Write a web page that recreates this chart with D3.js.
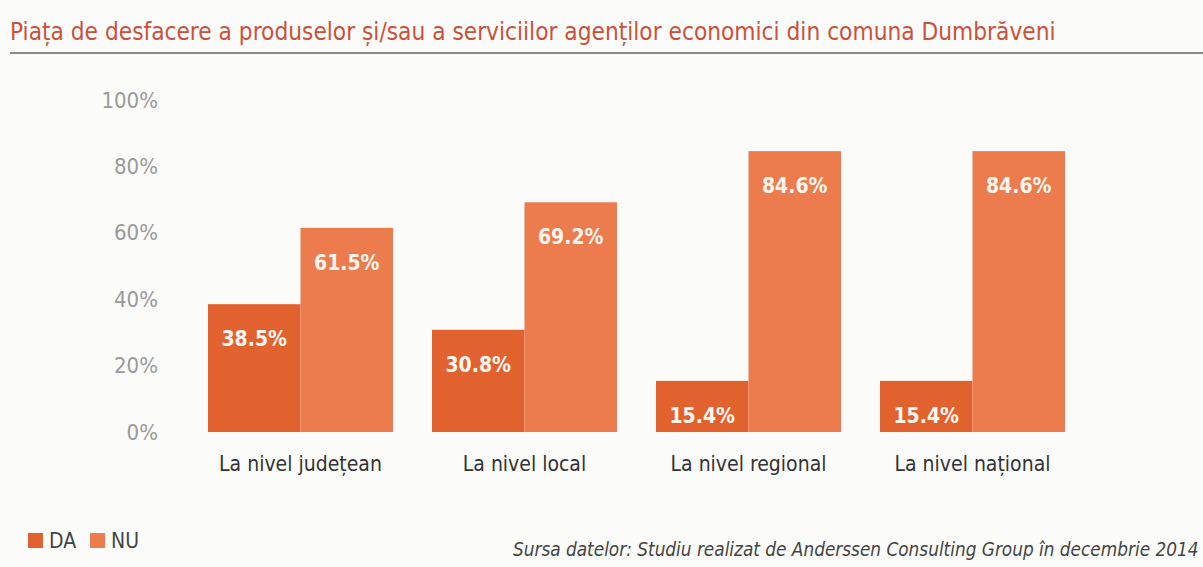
<!DOCTYPE html>
<html>
<head>
<meta charset="utf-8">
<script src="https://cdn.jsdelivr.net/npm/d3@7"></script>
<style>
  body { margin: 0; background: #fbfbfa; }
  svg { display: block; }
</style>
</head>
<body>
<div id="app"></div>
<script>
const categories = ["La nivel județean", "La nivel local", "La nivel regional", "La nivel național"];
const series = ["DA", "NU"];
const daValues = [38.5, 30.8, 15.4, 15.4];
const nuValues = [61.5, 69.2, 84.6, 84.6];
const yTicks = [0, 20, 40, 60, 80, 100];

const width = 1203;
const height = 567;
const font = "'DejaVu Sans Condensed', 'Noto Sans', sans-serif";
const colors = { DA: "#e2622f", NU: "#ec7b4d" };

const rows = categories.map((c, i) => ({ cat: c, DA: daValues[i], NU: nuValues[i] }));

// shrink a text's font size so that it spans the wanted width
const fitText = (sel, target) => {
  const node = sel.node();
  const size = parseFloat(sel.style("font-size"));
  const w = node.getComputedTextLength();
  sel.style("font-size", (size * target / w) + "px");
};

const svg = d3.select("#app").append("svg")
  .attr("width", width)
  .attr("height", height)
  .style("font-family", font);

// title and rule
const title = svg.append("text")
  .attr("x", 10)
  .attr("y", 40)
  .attr("fill", "#c8523c")
  .style("font-size", "28px")
  .text("Piața de desfacere a produselor și/sau a serviciilor agenților economici din comuna Dumbrăveni");
fitText(title, 1046);

svg.append("line")
  .attr("x1", 10).attr("x2", width)
  .attr("y1", 53).attr("y2", 53)
  .attr("stroke", "#8a8a8a")
  .attr("stroke-width", 2);

const x0 = d3.scaleBand()
  .domain(categories)
  .range([208, 1065])
  .paddingInner(0.174)
  .paddingOuter(0);

const x1 = d3.scaleBand()
  .domain(series)
  .range([0, x0.bandwidth()]);

const y = d3.scaleLinear()
  .domain([0, 100])
  .range([432, 100]);

// y axis labels only
const yAxis = svg.append("g")
  .attr("transform", "translate(158,0)")
  .call(d3.axisLeft(y).tickValues(yTicks).tickFormat(d => d + "%").tickSize(0).tickPadding(0));
yAxis.select(".domain").remove();
yAxis.selectAll("text")
  .attr("fill", "#9a9a9a")
  .style("font-family", font)
  .style("font-size", "22px");

const groups = svg.append("g")
  .selectAll("g")
  .data(rows)
  .join("g")
  .attr("transform", d => `translate(${x0(d.cat)},0)`);

const cells = groups.selectAll("g")
  .data(d => series.map(s => ({ key: s, value: d[s] })))
  .join("g");

cells.append("rect")
  .attr("x", d => x1(d.key))
  .attr("y", d => y(d.value))
  .attr("width", x1.bandwidth())
  .attr("height", d => y(0) - y(d.value))
  .attr("fill", d => colors[d.key]);

cells.append("text")
  .attr("x", d => x1(d.key) + x1.bandwidth() / 2)
  .attr("y", d => y(d.value) + 42)
  .attr("text-anchor", "middle")
  .attr("fill", "#fff7ef")
  .style("font-size", "21px")
  .style("font-weight", "bold")
  .text(d => d.value.toFixed(1) + "%");

// category axis
const xAxis = svg.append("g")
  .attr("transform", "translate(0,432)")
  .call(d3.axisBottom(x0).tickSize(0).tickPadding(24));
xAxis.select(".domain").remove();
xAxis.selectAll("text")
  .attr("fill", "#333")
  .style("font-family", font)
  .style("font-size", "21px");

// legend
const legend = svg.append("g")
  .selectAll("g")
  .data(series)
  .join("g")
  .attr("transform", (d, i) => `translate(${28 + i * 62},533)`);

legend.append("rect")
  .attr("width", 15)
  .attr("height", 15)
  .attr("fill", d => colors[d]);

legend.append("text")
  .attr("x", 21)
  .attr("y", 15)
  .attr("fill", "#444")
  .style("font-size", "21px")
  .text(d => d);

const source = svg.append("text")
  .attr("x", 513)
  .attr("y", 556)
  .attr("fill", "#444")
  .style("font-size", "20px")
  .style("font-style", "italic")
  .text("Sursa datelor: Studiu realizat de Anderssen Consulting Group în decembrie 2014");
fitText(source, 686);
</script>
</body>
</html>
